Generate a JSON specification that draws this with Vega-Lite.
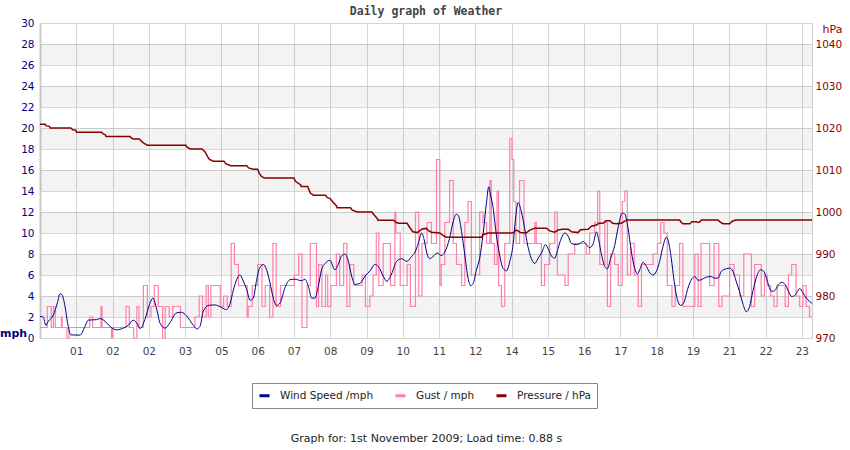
{
  "$schema": "https://vega.github.io/schema/vega-lite/v6.json",
  "width": 772,
  "height": 315,
  "autosize": {"type": "none"},
  "padding": {"left": 40, "top": 23, "right": 38, "bottom": 112},
  "background": "white",
  "title": {"text": "Daily graph of Weather", "font": "DejaVu Sans Mono", "fontSize": 11.5, "fontWeight": "bold", "color": "#444444", "offset": 1, "anchor": "middle"},
  "config": {
    "view": {"stroke": "#cccccc", "strokeWidth": 1},
    "axis": {"labelFont": "DejaVu Sans", "titleFont": "DejaVu Sans", "labelOverlap": false, "labelFlush": false, "labelBound": false, "tickCount": 40}
  },
  "datasets": {
    "bands": [{"lo": 2, "hi": 4}, {"lo": 6, "hi": 8}, {"lo": 10, "hi": 12}, {"lo": 14, "hi": 16}, {"lo": 18, "hi": 20}, {"lo": 22, "hi": 24}, {"lo": 26, "hi": 28}],
    "wind": [
      {"t":0.0,"v":2.05},{"t":0.09,"v":2.0},{"t":0.16,"v":1.2},{"t":0.23,"v":1.6},{"t":0.37,"v":2.2},{"t":0.48,"v":3.35},{"t":0.55,"v":4.2},{"t":0.60,"v":4.15},{"t":0.69,"v":3.0},{"t":0.76,"v":1.45},{"t":0.85,"v":0.3},{"t":1.10,"v":0.27},{"t":1.24,"v":1.1},{"t":1.33,"v":1.7},{"t":1.56,"v":1.75},{"t":1.65,"v":1.85},{"t":1.79,"v":1.6},{"t":1.93,"v":1.1},{"t":2.11,"v":0.78},{"t":2.30,"v":0.95},{"t":2.43,"v":1.2},{"t":2.57,"v":1.7},{"t":2.66,"v":1.45},{"t":2.76,"v":0.9},{"t":2.89,"v":1.75},{"t":3.03,"v":3.3},{"t":3.11,"v":3.8},{"t":3.22,"v":2.7},{"t":3.31,"v":1.4},{"t":3.45,"v":0.94},{"t":3.58,"v":1.45},{"t":3.77,"v":2.4},{"t":3.90,"v":2.45},{"t":4.04,"v":2.1},{"t":4.23,"v":1.2},{"t":4.32,"v":0.87},{"t":4.41,"v":1.1},{"t":4.50,"v":2.55},{"t":4.64,"v":3.1},{"t":4.82,"v":3.15},{"t":5.01,"v":2.9},{"t":5.14,"v":2.7},{"t":5.24,"v":3.3},{"t":5.33,"v":4.55},{"t":5.42,"v":5.55},{"t":5.51,"v":6.0},{"t":5.60,"v":5.45},{"t":5.70,"v":4.6},{"t":5.79,"v":3.6},{"t":5.88,"v":3.8},{"t":5.97,"v":5.5},{"t":6.06,"v":6.7},{"t":6.16,"v":7.0},{"t":6.25,"v":6.45},{"t":6.34,"v":5.25},{"t":6.43,"v":3.8},{"t":6.52,"v":3.1},{"t":6.62,"v":3.35},{"t":6.75,"v":4.77},{"t":6.89,"v":5.55},{"t":7.03,"v":5.6},{"t":7.21,"v":5.45},{"t":7.30,"v":5.6},{"t":7.40,"v":4.9},{"t":7.49,"v":3.8},{"t":7.58,"v":3.8},{"t":7.67,"v":4.9},{"t":7.76,"v":6.5},{"t":7.86,"v":7.1},{"t":7.99,"v":7.4},{"t":8.13,"v":6.5},{"t":8.22,"v":7.0},{"t":8.31,"v":7.8},{"t":8.41,"v":8.0},{"t":8.50,"v":7.3},{"t":8.59,"v":5.9},{"t":8.68,"v":5.1},{"t":8.82,"v":5.2},{"t":8.96,"v":5.9},{"t":9.10,"v":6.4},{"t":9.23,"v":7.0},{"t":9.33,"v":6.8},{"t":9.46,"v":5.9},{"t":9.56,"v":5.4},{"t":9.69,"v":6.1},{"t":9.83,"v":7.3},{"t":9.97,"v":7.55},{"t":10.11,"v":7.3},{"t":10.24,"v":7.75},{"t":10.34,"v":8.2},{"t":10.43,"v":9.05},{"t":10.52,"v":10.0},{"t":10.59,"v":9.35},{"t":10.67,"v":8.0},{"t":10.74,"v":7.55},{"t":10.83,"v":7.75},{"t":10.95,"v":8.1},{"t":11.06,"v":7.85},{"t":11.16,"v":8.2},{"t":11.29,"v":9.5},{"t":11.39,"v":11.1},{"t":11.48,"v":11.8},{"t":11.54,"v":11.6},{"t":11.62,"v":10.15},{"t":11.71,"v":7.9},{"t":11.80,"v":5.7},{"t":11.87,"v":4.98},{"t":11.94,"v":5.2},{"t":12.03,"v":6.5},{"t":12.12,"v":7.6},{"t":12.21,"v":9.8},{"t":12.31,"v":13.0},{"t":12.37,"v":14.4},{"t":12.42,"v":13.6},{"t":12.49,"v":12.4},{"t":12.58,"v":9.8},{"t":12.67,"v":7.9},{"t":12.76,"v":6.65},{"t":12.86,"v":6.4},{"t":12.95,"v":7.3},{"t":13.04,"v":8.9},{"t":13.10,"v":11.1},{"t":13.18,"v":12.9},{"t":13.27,"v":12.0},{"t":13.36,"v":10.45},{"t":13.45,"v":8.7},{"t":13.54,"v":7.6},{"t":13.64,"v":7.1},{"t":13.73,"v":7.6},{"t":13.84,"v":8.2},{"t":13.93,"v":8.9},{"t":14.02,"v":8.4},{"t":14.10,"v":7.8},{"t":14.19,"v":7.6},{"t":14.28,"v":8.55},{"t":14.37,"v":9.5},{"t":14.47,"v":10.0},{"t":14.56,"v":9.7},{"t":14.65,"v":9.0},{"t":14.79,"v":8.9},{"t":14.88,"v":9.0},{"t":14.97,"v":9.2},{"t":15.06,"v":8.9},{"t":15.15,"v":8.6},{"t":15.25,"v":9.0},{"t":15.34,"v":10.1},{"t":15.40,"v":9.35},{"t":15.48,"v":7.9},{"t":15.57,"v":6.8},{"t":15.64,"v":6.6},{"t":15.73,"v":7.6},{"t":15.84,"v":8.8},{"t":15.94,"v":10.6},{"t":16.05,"v":11.9},{"t":16.12,"v":11.8},{"t":16.21,"v":10.45},{"t":16.30,"v":8.25},{"t":16.39,"v":6.65},{"t":16.47,"v":6.1},{"t":16.53,"v":6.5},{"t":16.62,"v":7.2},{"t":16.72,"v":6.8},{"t":16.81,"v":6.2},{"t":16.90,"v":6.0},{"t":16.99,"v":6.35},{"t":17.08,"v":7.3},{"t":17.17,"v":8.7},{"t":17.27,"v":9.6},{"t":17.31,"v":9.35},{"t":17.40,"v":7.6},{"t":17.48,"v":5.4},{"t":17.57,"v":3.65},{"t":17.66,"v":3.1},{"t":17.75,"v":3.4},{"t":17.86,"v":4.75},{"t":17.97,"v":5.65},{"t":18.05,"v":5.85},{"t":18.14,"v":5.5},{"t":18.23,"v":5.55},{"t":18.37,"v":5.8},{"t":18.50,"v":5.85},{"t":18.60,"v":5.7},{"t":18.69,"v":5.7},{"t":18.78,"v":6.35},{"t":18.92,"v":6.6},{"t":19.01,"v":6.65},{"t":19.10,"v":6.35},{"t":19.19,"v":5.4},{"t":19.28,"v":4.45},{"t":19.38,"v":3.2},{"t":19.47,"v":2.5},{"t":19.56,"v":3.0},{"t":19.65,"v":4.45},{"t":19.74,"v":5.7},{"t":19.86,"v":6.5},{"t":19.95,"v":6.35},{"t":20.05,"v":5.4},{"t":20.16,"v":4.45},{"t":20.25,"v":4.5},{"t":20.34,"v":5.0},{"t":20.45,"v":5.3},{"t":20.54,"v":5.1},{"t":20.63,"v":4.45},{"t":20.72,"v":3.95},{"t":20.82,"v":4.1},{"t":20.94,"v":4.7},{"t":21.03,"v":4.3},{"t":21.12,"v":3.8},{"t":21.21,"v":3.5},{"t":21.28,"v":3.3}
    ],
    "gust": [
      {"t":0.0,"v":1},{"t":0.20,"v":3},{"t":0.31,"v":1},{"t":0.37,"v":3},{"t":0.42,"v":1},{"t":0.59,"v":2},{"t":0.61,"v":1},{"t":0.74,"v":0},{"t":0.80,"v":1},{"t":1.37,"v":2},{"t":1.45,"v":1},{"t":1.68,"v":3},{"t":1.71,"v":1},{"t":1.97,"v":0},{"t":2.0,"v":1},{"t":2.37,"v":3},{"t":2.46,"v":1},{"t":2.58,"v":0},{"t":2.67,"v":3},{"t":2.73,"v":1},{"t":2.85,"v":5},{"t":2.96,"v":2},{"t":3.06,"v":3},{"t":3.15,"v":5},{"t":3.26,"v":3},{"t":3.38,"v":0},{"t":3.45,"v":3},{"t":3.56,"v":2},{"t":3.66,"v":3},{"t":3.87,"v":1},{"t":4.27,"v":2},{"t":4.39,"v":4},{"t":4.48,"v":2},{"t":4.58,"v":5},{"t":4.64,"v":2},{"t":4.71,"v":5},{"t":4.97,"v":3},{"t":5.06,"v":4},{"t":5.16,"v":3},{"t":5.27,"v":9},{"t":5.36,"v":7},{"t":5.47,"v":5},{"t":5.71,"v":2},{"t":5.74,"v":3},{"t":5.85,"v":5},{"t":6.0,"v":7},{"t":6.12,"v":3},{"t":6.21,"v":5},{"t":6.33,"v":2},{"t":6.42,"v":9},{"t":6.51,"v":3},{"t":6.63,"v":5},{"t":7.01,"v":6},{"t":7.13,"v":8},{"t":7.22,"v":1},{"t":7.36,"v":5},{"t":7.45,"v":9},{"t":7.62,"v":3},{"t":7.68,"v":7},{"t":7.77,"v":3},{"t":7.87,"v":6},{"t":7.93,"v":3},{"t":8.02,"v":5},{"t":8.17,"v":8},{"t":8.26,"v":5},{"t":8.37,"v":9},{"t":8.46,"v":3},{"t":8.54,"v":7},{"t":8.65,"v":5},{"t":8.88,"v":6},{"t":8.97,"v":3},{"t":9.09,"v":4},{"t":9.18,"v":6},{"t":9.27,"v":10},{"t":9.34,"v":5},{"t":9.46,"v":9},{"t":9.66,"v":5},{"t":9.78,"v":12},{"t":9.81,"v":10},{"t":9.93,"v":5},{"t":10.12,"v":7},{"t":10.21,"v":3},{"t":10.35,"v":12},{"t":10.44,"v":4},{"t":10.53,"v":9},{"t":10.67,"v":11},{"t":10.79,"v":9},{"t":10.93,"v":17},{"t":11.02,"v":5},{"t":11.06,"v":7},{"t":11.16,"v":11},{"t":11.29,"v":15},{"t":11.39,"v":9},{"t":11.48,"v":7},{"t":11.62,"v":5},{"t":11.71,"v":11},{"t":11.80,"v":13},{"t":11.89,"v":6},{"t":12.12,"v":12},{"t":12.21,"v":11},{"t":12.31,"v":9},{"t":12.40,"v":15},{"t":12.44,"v":9},{"t":12.53,"v":7},{"t":12.60,"v":14},{"t":12.64,"v":5},{"t":12.72,"v":3},{"t":12.81,"v":9},{"t":12.95,"v":19},{"t":13.01,"v":17},{"t":13.06,"v":13},{"t":13.12,"v":9},{"t":13.22,"v":15},{"t":13.34,"v":9},{"t":13.64,"v":11},{"t":13.68,"v":9},{"t":13.82,"v":5},{"t":13.91,"v":7},{"t":14.05,"v":9},{"t":14.19,"v":12},{"t":14.26,"v":6},{"t":14.47,"v":5},{"t":14.56,"v":8},{"t":14.74,"v":9},{"t":15.06,"v":8},{"t":15.15,"v":10},{"t":15.29,"v":11},{"t":15.37,"v":14},{"t":15.43,"v":7},{"t":15.57,"v":11},{"t":15.64,"v":3},{"t":15.73,"v":8},{"t":15.84,"v":7},{"t":15.94,"v":5},{"t":16.05,"v":13},{"t":16.12,"v":14},{"t":16.19,"v":6},{"t":16.28,"v":9},{"t":16.38,"v":6},{"t":16.49,"v":3},{"t":16.58,"v":7},{"t":16.90,"v":8},{"t":17.02,"v":9},{"t":17.11,"v":11},{"t":17.20,"v":10},{"t":17.29,"v":5},{"t":17.42,"v":3},{"t":17.51,"v":5},{"t":17.63,"v":9},{"t":17.72,"v":3},{"t":18.05,"v":8},{"t":18.14,"v":3},{"t":18.22,"v":9},{"t":18.46,"v":5},{"t":18.58,"v":9},{"t":18.71,"v":3},{"t":18.80,"v":4},{"t":19.01,"v":7},{"t":19.13,"v":6},{"t":19.28,"v":4},{"t":19.40,"v":8},{"t":19.61,"v":3},{"t":19.70,"v":7},{"t":19.88,"v":4},{"t":19.97,"v":6},{"t":20.05,"v":5},{"t":20.14,"v":4},{"t":20.23,"v":3},{"t":20.32,"v":5},{"t":20.54,"v":3},{"t":20.63,"v":6},{"t":20.72,"v":7},{"t":20.84,"v":4},{"t":20.94,"v":3},{"t":21.03,"v":5},{"t":21.12,"v":3},{"t":21.21,"v":2},{"t":21.28,"v":2}
    ],
    "pressure": [
      {"t":0.0,"v":1020.9},{"t":0.14,"v":1020.9},{"t":0.17,"v":1020.5},{"t":0.26,"v":1020.4},{"t":0.28,"v":1020.0},{"t":0.85,"v":1020.0},{"t":0.9,"v":1019.6},{"t":0.98,"v":1019.5},{"t":1.01,"v":1019.0},{"t":1.70,"v":1019.0},{"t":1.74,"v":1018.6},{"t":1.80,"v":1018.4},{"t":1.82,"v":1018.0},{"t":2.48,"v":1018.0},{"t":2.52,"v":1017.6},{"t":2.58,"v":1017.4},{"t":2.74,"v":1017.4},{"t":2.80,"v":1016.8},{"t":2.86,"v":1016.4},{"t":2.96,"v":1015.9},{"t":4.02,"v":1015.9},{"t":4.06,"v":1015.4},{"t":4.15,"v":1015.0},{"t":4.47,"v":1015.0},{"t":4.55,"v":1014.3},{"t":4.62,"v":1013.2},{"t":4.67,"v":1012.5},{"t":4.78,"v":1012.1},{"t":5.07,"v":1012.1},{"t":5.12,"v":1011.5},{"t":5.26,"v":1011.0},{"t":5.70,"v":1011.0},{"t":5.75,"v":1010.5},{"t":5.88,"v":1010.2},{"t":6.0,"v":1010.2},{"t":6.04,"v":1009.3},{"t":6.1,"v":1008.5},{"t":6.18,"v":1008.1},{"t":7.0,"v":1008.1},{"t":7.04,"v":1007.3},{"t":7.18,"v":1006.5},{"t":7.20,"v":1006.05},{"t":7.38,"v":1006.05},{"t":7.45,"v":1004.5},{"t":7.54,"v":1004.0},{"t":7.87,"v":1004.0},{"t":7.92,"v":1003.4},{"t":8.0,"v":1003.2},{"t":8.07,"v":1002.4},{"t":8.17,"v":1001.5},{"t":8.19,"v":1001.0},{"t":8.56,"v":1001.0},{"t":8.6,"v":1000.5},{"t":8.74,"v":1000.0},{"t":9.15,"v":1000.0},{"t":9.2,"v":999.4},{"t":9.29,"v":998.5},{"t":9.32,"v":998.05},{"t":9.75,"v":998.05},{"t":9.82,"v":997.5},{"t":9.89,"v":997.3},{"t":10.12,"v":997.3},{"t":10.2,"v":996.2},{"t":10.28,"v":995.3},{"t":10.40,"v":995.1},{"t":10.48,"v":995.6},{"t":10.55,"v":996.0},{"t":10.65,"v":996.1},{"t":10.70,"v":995.6},{"t":10.79,"v":995.2},{"t":11.02,"v":995.0},{"t":11.1,"v":994.5},{"t":11.20,"v":994.0},{"t":12.17,"v":994.0},{"t":12.21,"v":994.6},{"t":12.35,"v":995.0},{"t":13.04,"v":995.0},{"t":13.12,"v":995.7},{"t":13.18,"v":995.5},{"t":13.24,"v":995.1},{"t":13.40,"v":995.0},{"t":13.5,"v":995.7},{"t":13.64,"v":996.15},{"t":13.96,"v":996.15},{"t":14.05,"v":995.5},{"t":14.19,"v":995.2},{"t":14.28,"v":995.7},{"t":14.4,"v":995.9},{"t":14.56,"v":995.9},{"t":14.65,"v":995.3},{"t":14.83,"v":995.1},{"t":14.9,"v":995.8},{"t":15.11,"v":995.9},{"t":15.2,"v":996.6},{"t":15.34,"v":996.9},{"t":15.4,"v":997.3},{"t":15.52,"v":997.3},{"t":15.6,"v":997.9},{"t":15.71,"v":997.9},{"t":15.78,"v":997.3},{"t":15.89,"v":997.2},{"t":16.03,"v":997.3},{"t":16.1,"v":997.7},{"t":16.17,"v":998.1},{"t":17.63,"v":998.1},{"t":17.68,"v":997.5},{"t":17.72,"v":997.2},{"t":17.91,"v":997.2},{"t":17.97,"v":997.7},{"t":18.09,"v":997.7},{"t":18.13,"v":997.5},{"t":18.18,"v":997.6},{"t":18.23,"v":998.1},{"t":18.69,"v":998.1},{"t":18.75,"v":997.6},{"t":18.83,"v":997.2},{"t":19.01,"v":997.2},{"t":19.08,"v":997.8},{"t":19.19,"v":998.1},{"t":21.28,"v":998.1}
    ]
  },
  "layer": [
    {
      "layer": [
        {
          "data": {"name": "bands"},
          "mark": {"type": "rect", "fill": "#000000", "fillOpacity": 0.047},
          "encoding": {
            "y": {
              "field": "lo", "type": "quantitative", "title": "mph",
              "scale": {"domain": [0, 30], "nice": false, "zero": true},
              "axis": {
                "values": [0, 2, 4, 6, 8, 10, 12, 14, 16, 18, 20, 22, 24, 26, 28, 30],
                "tickCount": 40,
                "format": "d",
                "grid": true, "gridColor": "#d6d6d6", "gridWidth": 1,
                "ticks": false, "domain": true, "domainColor": "#cccccc", "domainWidth": 2,
                "labelColor": "#000080", "labelFontSize": 10.5, "labelPadding": 6,
                "labelFlush": false, "labelOverlap": false,
                "titleAngle": 0, "titleX": -27, "titleY": 310, "titleAlign": "center", "titleBaseline": "middle",
                "titleFontSize": 11, "titleFontWeight": "bold", "titleColor": "#000080"
              }
            },
            "y2": {"field": "hi"}
          }
        },
        {
          "data": {"name": "gust"},
          "mark": {"type": "line", "interpolate": "step-after", "strokeWidth": 1.2},
          "encoding": {
            "x": {"field": "t", "type": "quantitative", "title": "Graph for: 1st November 2009; Load time: 0.88 s"},
            "y": {"field": "v", "type": "quantitative", "title": "mph"},
            "color": {"datum": "Gust / mph", "type": "nominal"}
          }
        },
        {
          "data": {"name": "wind"},
          "mark": {"type": "line", "interpolate": "monotone", "strokeWidth": 1},
          "encoding": {
            "x": {
              "field": "t", "type": "quantitative",
              "title": "Graph for: 1st November 2009; Load time: 0.88 s",
              "scale": {"domain": [0, 21.28], "nice": false, "zero": false},
              "axis": {
                "values": [1, 2, 3, 4, 5, 6, 7, 8, 9, 10, 11, 12, 13, 14, 15, 16, 17, 18, 19, 20, 21],
                "tickCount": 40,
                "labelExpr": "['01','02','02','03','05','06','07','08','09','10','11','12','14','15','16','17','18','19','21','22','23'][datum.value - 1]",
                "grid": true, "gridColor": "#d6d6d6", "gridWidth": 1,
                "ticks": false, "domain": false,
                "labelColor": "#444444", "labelFontSize": 10.5, "labelPadding": 8,
                "labelFlush": false, "labelOverlap": false,
                "titleX": 386, "titleY": 100, "titleAlign": "center", "titleBaseline": "middle",
                "titleFontSize": 11, "titleFontWeight": "normal", "titleColor": "#222222"
              }
            },
            "y": {"field": "v", "type": "quantitative", "title": "mph"},
            "color": {
              "datum": "Wind Speed /mph", "type": "nominal",
              "scale": {"domain": ["Wind Speed /mph", "Gust / mph", "Pressure / hPa"], "range": ["#000088", "#ff80aa", "#880000"]},
              "legend": {
                "orient": "none", "legendX": 212, "legendY": 360, "direction": "horizontal",
                "title": null, "symbolType": "stroke", "symbolSize": 100, "symbolStrokeWidth": 3,
                "labelFont": "DejaVu Sans", "labelFontSize": 10.5, "labelColor": "#222222", "labelOffset": 9,
                "columnPadding": 15, "padding": 6, "strokeColor": "#888888", "fillColor": "#ffffff"
              }
            }
          }
        }
      ]
    },
    {
      "data": {"name": "pressure"},
      "mark": {"type": "line", "strokeWidth": 1.5},
      "encoding": {
        "x": {"field": "t", "type": "quantitative", "title": "Graph for: 1st November 2009; Load time: 0.88 s"},
        "y": {
          "field": "v", "type": "quantitative", "title": "hPa",
          "scale": {"domain": [970, 1045], "nice": false, "zero": false},
          "axis": {
            "orient": "right",
            "values": [970, 980, 990, 1000, 1010, 1020, 1030, 1040],
            "tickCount": 40,
            "format": "d",
            "grid": false, "ticks": false, "domain": false,
            "labelColor": "#8b0000", "labelFontSize": 10.5, "labelPadding": 3,
            "labelFlush": false, "labelOverlap": false,
            "titleAngle": 0, "titleX": 20, "titleY": 6, "titleAlign": "center", "titleBaseline": "middle",
            "titleFontSize": 11, "titleFontWeight": "normal", "titleColor": "#8b0000"
          }
        },
        "color": {"datum": "Pressure / hPa", "type": "nominal"}
      }
    }
  ],
  "resolve": {"scale": {"y": "independent"}, "axis": {"y": "independent"}}
}
